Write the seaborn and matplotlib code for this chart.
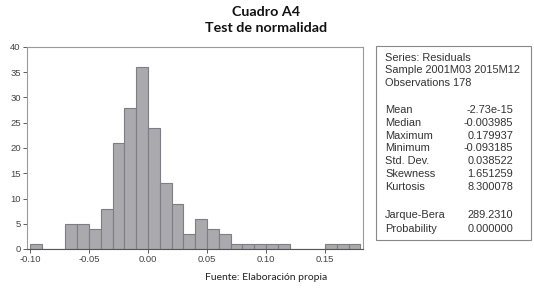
import numpy as np
import pandas as pd
import matplotlib
matplotlib.use("Agg")
import matplotlib.pyplot as plt
import seaborn as sns
from matplotlib.ticker import MultipleLocator

# Histogram data (bin width 0.01)
bin_left = [-0.10, -0.09, -0.08, -0.07, -0.06, -0.05, -0.04, -0.03, -0.02, -0.01,
            0.00, 0.01, 0.02, 0.03, 0.04, 0.05, 0.06, 0.07, 0.08, 0.09, 0.10,
            0.11, 0.12, 0.13, 0.14, 0.15, 0.16, 0.17]
counts = [1, 0, 0, 5, 5, 4, 8, 21, 28, 36,
          24, 13, 9, 3, 6, 4, 3, 1, 1, 1, 1,
          1, 0, 0, 0, 1, 1, 1]
x_ticks = [-0.10, -0.05, 0.00, 0.05, 0.10, 0.15]
x_tick_labels = ["-0.10", "-0.05", "0.00", "0.05", "0.10", "0.15"]
y_ticks = [0, 5, 10, 15, 20, 25, 30, 35, 40]

stat_header = ["Series: Residuals", "Sample 2001M03 2015M12", "Observations 178"]
stat_names = ["Mean", "Median", "Maximum", "Minimum", "Std. Dev.", "Skewness", "Kurtosis"]
stat_values = ["-2.73e-15", "-0.003985", "0.179937", "-0.093185", "0.038522", "1.651259", "8.300078"]
test_names = ["Jarque-Bera", "Probability"]
test_values = ["289.2310", "0.000000"]

title1 = "Cuadro A4"
title2 = "Test de normalidad"
source = "Fuente: Elaboración propia"

sns.set_style("white")
plt.rcParams['font.family'] = ['Liberation Sans', 'DejaVu Sans']

width = 0.01
df = pd.DataFrame({"x": np.array(bin_left) + width / 2, "w": np.array(counts, dtype=float)})

fig = plt.figure(figsize=(5.34, 2.91), dpi=100)
ax = fig.add_axes([27 / 534, 1 - 249 / 291, (363 - 27) / 534, (249 - 47) / 291])

sns.histplot(data=df, x="x", weights="w", binwidth=width,
             binrange=(bin_left[0], bin_left[-1] + width), ax=ax,
             color="#a9a9ae", edgecolor="#7d7d83", linewidth=0.8, alpha=1.0)

ax.set_xlim(-0.1025, 0.1822)
ax.set_ylim(0, 40)
ax.set_xticks(x_ticks)
ax.set_xticklabels(x_tick_labels)
ax.set_yticks(y_ticks)
ax.xaxis.set_minor_locator(MultipleLocator(0.01))
ax.set_xlabel("")
ax.set_ylabel("")
ax.tick_params(axis="both", which="major", labelsize=6.8, colors="#444444",
               length=3, width=0.6, direction="out", pad=1.5)
ax.tick_params(axis="x", which="minor", length=2, width=0.5, direction="in", colors="#777777")
ax.tick_params(axis="x", which="major", bottom=True)
ax.tick_params(axis="y", which="major", left=True)
for s in ["top", "right", "left"]:
    ax.spines[s].set_color("#9a9a9a")
    ax.spines[s].set_linewidth(0.8)
ax.spines["bottom"].set_color("#555555")
ax.spines["bottom"].set_linewidth(0.8)

# Stats box
box = plt.Rectangle((376 / 534, 1 - 240 / 291), (531 - 376) / 534, (240 - 46) / 291,
                    transform=fig.transFigure, fill=False, edgecolor="#888888", linewidth=0.8)
fig.patches.append(box)

fs = 7.9
xl = 385 / 534
xr = 513 / 534
y = 58
for t in stat_header:
    fig.text(xl, 1 - y / 291, t, fontsize=fs, color="#333333", va="center", ha="left")
    y += 12.4
y = 110
for n, v in zip(stat_names, stat_values):
    fig.text(xl, 1 - y / 291, n, fontsize=fs, color="#333333", va="center", ha="left")
    fig.text(xr, 1 - y / 291, v, fontsize=fs, color="#333333", va="center", ha="right")
    y += 12.8
y = 215
for n, v in zip(test_names, test_values):
    fig.text(xl, 1 - y / 291, n, fontsize=fs, color="#333333", va="center", ha="left")
    fig.text(xr, 1 - y / 291, v, fontsize=fs, color="#333333", va="center", ha="right")
    y += 14

fig.text(266 / 534, 1 - 12 / 291, title1, fontsize=10.3, fontweight="bold", ha="center", va="center",
         family=["Lato", "DejaVu Sans"], color="#111111")
fig.text(266 / 534, 1 - 28 / 291, title2, fontsize=10.3, fontweight="bold", ha="center", va="center",
         family=["Lato", "DejaVu Sans"], color="#111111")
fig.text(266 / 534, 1 - 277 / 291, source, fontsize=7.5, ha="center", va="center",
         family=["Lato", "DejaVu Sans"], color="#222222")

fig.savefig("out.png", dpi=100)
